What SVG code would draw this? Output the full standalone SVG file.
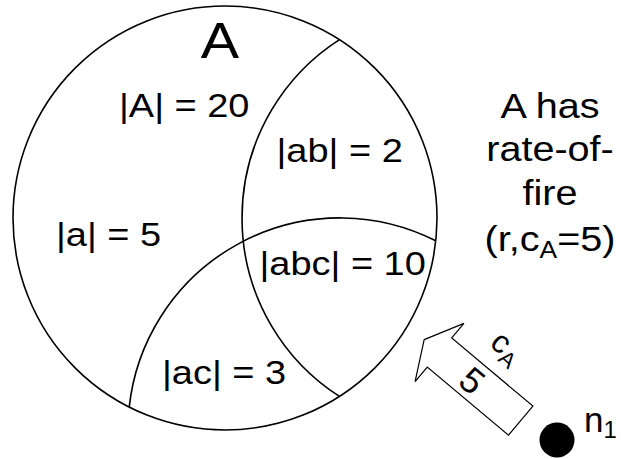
<svg xmlns="http://www.w3.org/2000/svg" width="621" height="459" viewBox="0 0 621 459">
<style>
.ln{fill:none;stroke:#000;stroke-width:1.6}
.t{font-family:"Liberation Sans",Arial,sans-serif;fill:#000}
.lab{font-size:33px}
.rt{font-size:36px;text-anchor:middle}
</style>
<rect width="621" height="459" fill="#fff"/>
<g id="setA">
<circle class="ln" cx="225" cy="218" r="212"/>
<text class="t" font-size="50" text-anchor="middle" transform="translate(220,58) scale(1.15,1)">A</text>
</g>
<g id="arcs">
<path class="ln" d="M339.5,39.6 A212,212 0 0 0 339.5,396.4"/>
<path class="ln" d="M129.2,407.2 A212,212 0 0 1 435.8,240.8"/>
</g>
<g id="labels">
<text class="t lab" transform="translate(119,117) scale(1.15,1)">|A| = 20</text>
<text class="t lab" transform="translate(276.5,162) scale(1.15,1)">|ab| = 2</text>
<text class="t lab" transform="translate(56,246) scale(1.15,1)">|a| = 5</text>
<text class="t lab" transform="translate(259.5,275) scale(1.15,1)">|abc| = 10</text>
<text class="t lab" transform="translate(162,384) scale(1.15,1)">|ac| = 3</text>
</g>
<g id="note">
<text class="t rt" transform="translate(550,118) scale(1.1,1)">A has</text>
<text class="t rt" transform="translate(550,161) scale(1.1,1)">rate-of-</text>
<text class="t rt" transform="translate(550,205) scale(1.1,1)">fire</text>
<text class="t rt" transform="translate(550,251) scale(1.1,1)">(r,c<tspan font-size="24" dy="7">A</tspan><tspan dy="-7">=5)</tspan></text>
</g>
<g id="connectors">
<g id="arrow" transform="translate(439.5,352.5) rotate(40)">
<polygon points="-20,0 0,-38 0,-19 106,-19 106,19 0,19 0,38" fill="#fff" stroke="#000" stroke-width="1.2" stroke-linejoin="miter"/>
<text class="t" font-size="36" text-anchor="middle" x="43" y="13">5</text>
<text class="t" font-size="32" x="33" y="-37">c<tspan font-size="22" dy="6">A</tspan></text>
</g>
</g>
<g id="n1">
<circle cx="557" cy="440" r="17.5" fill="#000"/>
<text class="t" font-size="35" x="584" y="432">n<tspan font-size="24" dy="6">1</tspan></text>
</g>
</svg>
